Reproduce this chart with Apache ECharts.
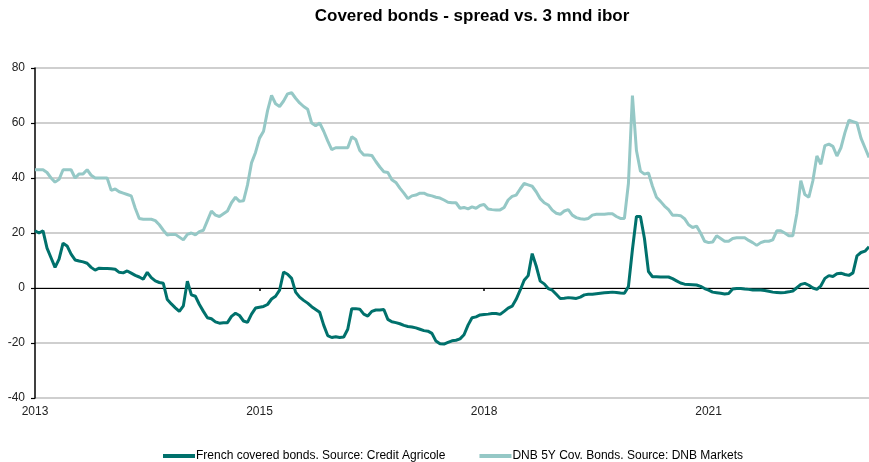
<!DOCTYPE html>
<html>
<head>
<meta charset="utf-8">
<script src="https://cdn.jsdelivr.net/npm/echarts@6/dist/echarts.min.js"></script>
<style>
html,body{margin:0;padding:0;background:#fff;}
#chart{width:869px;height:462px;}
</style>
</head>
<body>
<div id="chart"></div>
<script>
// Tick labels shown on the x axis and the category index where each sits
const tickLabels = ['2013', '2015', '2018', '2021'];
const tickIndex = [0, 56, 112, 168];

// Weekly-ish observations (index positions along the category axis)
const frenchCB = [
  20.8, 20, 20.8, 14.5, 11, 7.5, 10.5, 16.3, 15.3, 12.3,
  10.2, 9.8, 9.5, 9, 7.5, 6.5, 7.2, 7.1, 7.1, 7,
  6.8, 5.7, 5.5, 6.2, 5.4, 4.6, 4, 3.2, 5.7, 3.8,
  2.6, 2, 1.7, -4.2, -5.8, -7.2, -8.5, -6.5, 2.5, -2.5,
  -3, -6, -8.5, -10.8, -11.2, -12.3, -12.8, -12.6, -12.6, -10.3,
  -9.2, -10, -12, -12.5, -9.5, -7.3, -7, -6.7, -6, -4,
  -3, -0.8, 5.8, 5, 3.5, -1.5, -3.3, -4.5, -5.5, -6.8,
  -7.8, -8.8, -13.5, -17.3, -18, -17.7, -18, -17.8, -15, -7.5,
  -7.5, -7.7, -9.5, -10.2, -8.5, -8, -8, -7.8, -11.4, -12.3,
  -12.6, -13, -13.6, -14, -14.2, -14.5, -15, -15.5, -15.7, -16.5,
  -19.3, -20.3, -20.4, -19.8, -19.2, -19, -18.5, -17, -13.5, -10.8,
  -10.5, -9.8, -9.6, -9.5, -9.3, -9.3, -9.6, -8.5, -7.3, -6.6,
  -4.1, -0.8, 2.8, 4.5, 12.5, 8, 2.5, 1.5, -0.2, -0.8,
  -2.3, -3.8, -3.7, -3.5, -3.6, -3.8, -3.3, -2.5, -2.3, -2.3,
  -2.1, -1.9, -1.7, -1.6, -1.5, -1.6, -1.8, -1.9, 0.5, 14,
  26, 26, 18, 6, 4.1, 4.1, 4, 4, 4, 3.4,
  2.6, 1.8, 1.4, 1.3, 1.2, 1.1, 0.6, -0.2, -0.8, -1.5,
  -1.7, -1.9, -2.2, -2, -0.4, -0.2, -0.2, -0.4, -0.5, -0.7,
  -0.7, -0.7, -0.9, -1.2, -1.5, -1.6, -1.7, -1.6, -1.4, -1.1,
  0.1, 1.3, 1.7, 1, 0, -0.5, 0.8, 3.5, 4.5, 4.2,
  5.2, 5.4, 4.9, 4.6, 5.5, 11.7, 12.9, 13.4, 15
];

const dnbCB = [
  43, 43, 43, 42, 40, 38.5, 39.5, 43, 43, 43,
  40, 41.5, 41.5, 43, 41, 40, 40, 40, 40, 35.5,
  36, 35, 34.5, 34, 33.5, 29, 25.3, 25, 25, 25,
  24.5, 23, 21, 19.3, 19.5, 19.5, 18.5, 17.5, 19.5, 20,
  19.3, 20.5, 21, 24.5, 28, 26.5, 26, 27, 28, 31,
  33, 31.5, 31.7, 37.5, 45.5, 49.3, 54.5, 57, 64.5, 70,
  67, 66, 68, 70.6, 71, 69, 67.3, 66, 65, 60,
  59, 60, 57, 53.5, 50.3, 51, 51, 51, 51, 55,
  54, 50, 48.4, 48.4, 48.2, 46, 44, 42.3, 42, 39.4,
  38.4, 36.3, 34.5, 32.5, 33.5, 33.8, 34.5, 34.5, 33.8, 33.5,
  33, 32.7, 32, 31.2, 31, 31, 29, 29.3, 28.8, 29.5,
  29, 30, 30.4, 28.7, 28.5, 28.4, 28.4, 29.3, 32, 33.3,
  33.8, 36, 38, 37.5, 37, 35, 32.5, 31, 30.2, 28.3,
  27.2, 26.8, 28, 28.5, 26.5, 25.6, 25.2, 25, 25.3, 26.5,
  26.8, 26.8, 26.8, 27, 27, 26, 25.3, 25.3, 38, 70,
  50, 42.5, 41.4, 41.8, 37, 33, 31.5, 29.8, 28.5, 26.5,
  26.5, 26.3, 25.2, 23, 22, 22.5, 20, 17, 16.5, 16.7,
  19, 18, 17, 17, 18, 18.3, 18.3, 18.3, 17.3, 16.5,
  15.5, 16.5, 17, 17, 17.5, 20.8, 20.8, 20, 19, 19,
  27, 39, 34, 33, 39, 48, 45, 51.8, 52.3, 51.5,
  48, 51, 56.5, 61, 60.5, 60, 54.5, 51, 47.5
];

const seriesNames = ['French covered bonds. Source: Credit Agricole', 'DNB 5Y Cov. Bonds. Source: DNB Markets'];
const yTicks = { min: -40, max: 80, step: 20 };

const categories = frenchCB.map((_, i) => String(i));
const labelAt = {};
tickIndex.forEach((idx, k) => { labelAt[idx] = tickLabels[k]; });
const isTick = (idx) => labelAt[idx] !== undefined;

const chart = echarts.init(document.getElementById('chart'), null, { renderer: 'canvas' });
chart.setOption({
  animation: false,
  backgroundColor: '#ffffff',
  title: {
    text: 'Covered bonds - spread vs. 3 mnd ibor',
    left: 467,
    top: 3,
    textAlign: 'center',
    textStyle: { fontFamily: 'Liberation Sans Narrow, Arial Narrow, Liberation Sans, sans-serif', fontWeight: 'bold', fontSize: 17, color: '#000' }
  },
  legend: {
    left: 158,
    top: 445,
    itemWidth: 32,
    itemHeight: 4,
    itemGap: 34,
    icon: 'rect',
    textStyle: { fontFamily: 'Liberation Sans Narrow, Arial Narrow, Liberation Sans, sans-serif', fontSize: 12, color: '#000', padding: [0, 0, 0, -4] },
    data: seriesNames
  },
  grid: { left: 35, right: 0, top: 68, bottom: 64, containLabel: false },
  xAxis: [
    {
      type: 'category',
      data: categories,
      boundaryGap: false,
      axisLine: { onZero: true, lineStyle: { color: '#000', width: 1.2 } },
      axisTick: { show: true, length: 3, interval: (i) => isTick(i) && i !== 0, lineStyle: { color: '#000', width: 1.5 } },
      axisLabel: { show: false },
      splitLine: { show: false }
    },
    {
      type: 'category',
      data: categories,
      boundaryGap: false,
      position: 'bottom',
      axisLine: { show: false, onZero: false },
      axisTick: { show: false },
      axisLabel: {
        show: true,
        interval: (i) => isTick(i),
        formatter: (v, i) => labelAt[i] || '',
        margin: 8,
        fontFamily: 'Liberation Sans, Arial, sans-serif',
        fontSize: 12,
        color: '#222'
      },
      splitLine: { show: false }
    }
  ],
  yAxis: {
    type: 'value',
    min: yTicks.min,
    max: yTicks.max,
    interval: yTicks.step,
    axisLine: { show: true, lineStyle: { color: '#000', width: 1.5 } },
    axisTick: { show: true, length: 4, lineStyle: { color: '#000', width: 1.2 } },
    axisLabel: { margin: 10, fontFamily: 'Liberation Sans, Arial, sans-serif', fontSize: 12, color: '#222' },
    splitLine: { show: true, lineStyle: { color: '#bfbfbf', width: 1.5 } }
  },
  series: [
    {
      name: seriesNames[0],
      type: 'line',
      data: frenchCB,
      xAxisIndex: 0,
      showSymbol: false,
      symbol: 'none',
      smooth: false,
      lineStyle: { color: '#00716c', width: 3 },
      itemStyle: { color: '#00716c' },
      z: 3
    },
    {
      name: seriesNames[1],
      type: 'line',
      data: dnbCB,
      xAxisIndex: 0,
      showSymbol: false,
      symbol: 'none',
      smooth: false,
      lineStyle: { color: '#95c8c6', width: 3 },
      itemStyle: { color: '#95c8c6' },
      z: 2
    }
  ]
});
</script>
</body>
</html>
